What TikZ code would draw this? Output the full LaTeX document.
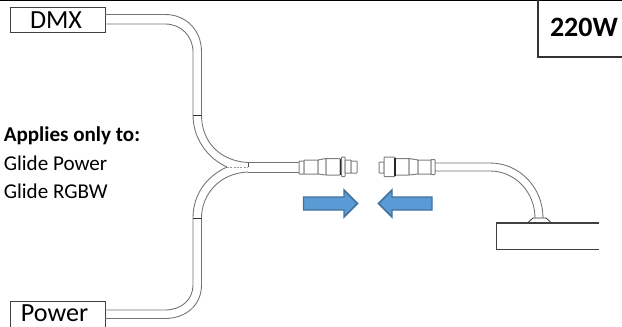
\documentclass[tikz,border=0pt]{standalone}
\usepackage{fontspec}
\setmainfont{Carlito}
\tikzset{
  px/.style={x=0.75pt,y=-0.75pt},
  labelbox/.style={draw=black!75,line width=0.7pt,fill=white,inner sep=0pt,anchor=north west},
  cable/.style={draw=black!55,line width=0.65pt},
  cableend/.style={draw=black!80,line width=0.6pt},
  part/.style={draw=black!50,line width=0.75pt,fill=white,rounded corners=0.4pt},
  band/.style={draw=black!85,line width=1pt},
  moveArrow/.style={draw=arrowline,fill=arrowfill,line width=1.1pt,miter limit=8},
  note/.style={anchor=base west,inner sep=0pt,font=\fontsize{15.8}{18}\selectfont},
  boxtext/.style={font=\fontsize{19.6}{22}\selectfont,inner sep=0pt},
}
\definecolor{arrowfill}{HTML}{5B9BD5}
\definecolor{arrowline}{HTML}{41719C}
\begin{document}
\begin{tikzpicture}[px]
\useasboundingbox (0,0) rectangle (622,326);
\draw[line width=1pt,black] (0,0.6) -- (622,0.6);

% boxes
\node[labelbox,minimum width=95.5bp*0.75,minimum height=25.5bp*0.75] (dmx) at (9.5,6.5) {};
\node[boxtext] (dmxt) at (56,20.5) {DMX};
\node[labelbox,minimum width=95.5bp*0.75,minimum height=30bp*0.75] (pwr) at (9.5,301) {};
\node[boxtext] (pwrt) at (54.5,313) {Power};

% 220W box
\coordinate (wa) at (538,0);
\coordinate (wb) at (538,57);
\coordinate (wc) at (622,57);
\draw[line width=0.9pt,black!80] (wa) -- (wb) -- (wc);
\node[font=\fontsize{21}{24}\bfseries\selectfont] (watt) at (584,27.5) {220W};

% notes
\node[note,font=\fontsize{15.8}{18}\bfseries\selectfont] (n1) at (3.5,141.5) {Applies only to:};
\node[note] (n2) at (3.5,170) {Glide Power};
\node[note] (n3) at (3.5,198) {Glide RGBW};

% upper branch
\draw[cable] (105,14.5) -- (165,14.5) .. controls (186,14.5) and (201.5,30) .. (201.5,52) -- (201.5,115)
   .. controls (201.5,142) and (220,161) .. (248,162.5);
\draw[cable] (105,24) -- (165,24) .. controls (181,24) and (193,36) .. (193,52) -- (193,115)
   .. controls (193,138) and (207,158) .. (227,167);
\draw[cableend] (193,115) -- (201.5,115);
% lower branch
\draw[cable] (105,310) -- (165,310) .. controls (181,310) and (193,300) .. (193,285) -- (193,218)
   .. controls (193,194) and (207,176) .. (227,167);
\draw[cable] (105,318.5) -- (165,318.5) .. controls (186,318.5) and (201.5,305) .. (201.5,285) -- (201.5,218)
   .. controls (201.5,194) and (220,173) .. (248,172);
\draw[cableend] (193,218) -- (201.5,218);
% tip and main cable
\draw[black!40,line width=0.6pt,dash pattern=on 1.5pt off 1pt] (227,167) -- (248,167);
\draw[black!70,line width=0.6pt] (248,162.5) -- (248,167);
\draw[cable] (248,162.5) -- (300,162.5);
\draw[cable] (248,172) -- (300,172);

% left connector
\draw[part] (299,161) rectangle (304,174);
\draw[part] (304,160) rectangle (318,174);
\draw[part] (318,160) -- (326,158.5) -- (326,175) -- (318,174) -- cycle;
\draw[part] (326,158.5) rectangle (340,175);
\draw[part] (341.5,157) rectangle (345,176.5);
\draw[part] (345,160) rectangle (351,173);
\draw[part] (351,161) rectangle (357,173);
\draw[band] (340.7,158.5) -- (340.7,175);

% right connector
\draw[part] (379,162) rectangle (384,173);
\draw[part] (384,157) rectangle (395,176.5);
\draw[part] (395,158.5) rectangle (409,175);
\draw[part] (409,158.5) -- (418,160) -- (418,174) -- (409,175) -- cycle;
\draw[part] (418,160) rectangle (431,174);
\draw[part] (431,159.5) rectangle (435,174.5);
\draw[band] (395,158) -- (395,175.5);

% right cable and lamp
\draw[cable] (435,163) -- (490,163) .. controls (520,163) and (543,188) .. (543,218);
\draw[cable] (435,171) -- (490,171) .. controls (515,171) and (535,192) .. (535,218);
\draw[cableend,fill=white] (528,222.5) -- (533,218) -- (546,218) -- (551,222.5);
\coordinate (la) at (599,223);
\coordinate (lb) at (496.5,223);
\coordinate (lc) at (496.5,249.5);
\coordinate (ld) at (599,249.5);
\draw[line width=0.8pt,black!75] (la) -- (lb) -- (lc) -- (ld);

% arrows
\draw[moveArrow] (303.5,197) -- (344,197) -- (344,190) -- (357.5,203.5) -- (344,217) -- (344,210) -- (303.5,210) -- cycle;
\draw[moveArrow] (432,197) -- (392,197) -- (392,190) -- (378.5,203.5) -- (392,217) -- (392,210) -- (432,210) -- cycle;
\end{tikzpicture}
\end{document}
